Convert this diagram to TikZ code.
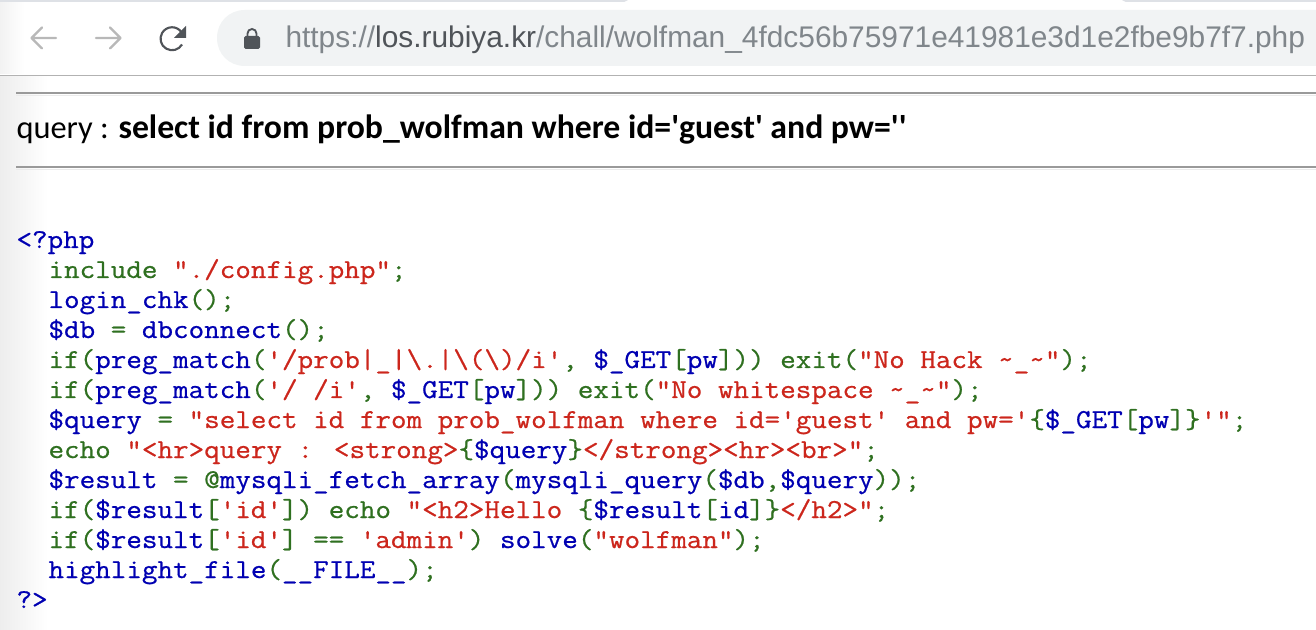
\documentclass[tikz,border=0pt]{standalone}
\usepackage{fontspec}
\newfontfamily\codefont[FakeStretch=1.106,FakeBold=0.7]{Latin Modern Mono}
\newfontfamily\urlfont{Liberation Sans}
\newfontfamily\queryfont{Carlito}
\definecolor{codegreen}{RGB}{47,112,32}
\definecolor{codered}{RGB}{204,38,28}
\definecolor{codeblue}{RGB}{0,0,178}
\definecolor{urlgray}{RGB}{128,134,139}
\definecolor{urldark}{RGB}{80,84,89}
\definecolor{barfill}{RGB}{241,243,244}
\definecolor{tabfill}{RGB}{222,225,230}
\definecolor{rulegray}{RGB}{154,154,154}
\newcommand{\kw}[1]{\textcolor{codegreen}{#1}}
\newcommand{\st}[1]{\textcolor{codered}{#1}}
\newcommand{\dl}{\$}
\newcommand{\bs}{\textbackslash}
\newcommand{\tl}{\textasciitilde}
\tikzset{every picture/.style={line width=0.75pt}}
\tikzset{
  codeline/.style={anchor=base west,inner sep=0pt,font=\codefont\fontsize{20.5}{23}\selectfont,text=codeblue},
  navicon/.style={draw=#1,line width=1.6pt,line cap=round,line join=round},
  hrule/.style={draw=rulegray,line width=1.5pt},
  hshade/.style={draw=black!8,line width=0.75pt}
}
\begin{document}
\begin{tikzpicture}[x=0.75pt,y=0.75pt,yscale=-1,xscale=1]
\useasboundingbox (0,0) rectangle (1316,630);
%Shape: Page
\fill [white] (0,0) rectangle (1316,630);
\shade [left color=black!7,right color=white] (0,0) rectangle (48,630);
\fill [white] (48,0) rectangle (1316,630);
%Shape: Tab strip
\fill [tabfill] (0,0) -- (628,0) .. controls (626,2) and (624,2) .. (620,2) -- (0,2) -- cycle ;
\fill [tabfill] (1122,0) -- (1316,0) -- (1316,2) -- (1130,2) .. controls (1126,2) and (1124,2) .. (1122,0) -- cycle ;
%Shape: Toolbar
\fill [white] (0,2) rectangle (1316,75);
\shade [left color=black!5,right color=white] (0,3) rectangle (24,74);
\draw [draw=black!30] (0,75.5) -- (1316,75.5) ;
%Shape: Address bar
\fill [barfill] (1316,10) -- (245,10) .. controls (229,10) and (217,22) .. (217,38) .. controls (217,54) and (229,66) .. (245,66) -- (1316,66) -- cycle ;
%Shape: Back arrow
\draw [navicon=black!28] (56,38) -- (32,38) (42,27.5) -- (31.5,38) -- (42,48.5) ;
%Shape: Forward arrow
\draw [navicon=black!28] (96,38) -- (120,38) (110,27.5) -- (120.5,38) -- (110,48.5) ;
%Shape: Reload
\draw [navicon=urldark,line cap=butt] (182,44.5) arc (30:325:11.5) ;
\fill [urldark] (186,26) -- (186,38) -- (174,38) -- cycle ;
%Shape: Lock
\fill [urldark,rounded corners=1.2pt] (244,36) rectangle (260,49) ;
\draw [draw=urldark,line width=1.4pt] (247.5,36) -- (247.5,33.5) arc (180:360:4.5) -- (256.5,36) ;
% Text Node
\node (urlbase) [anchor=base west,inner sep=0pt,font=\urlfont\fontsize{22.4}{26}\selectfont,text=urlgray] at (285,48) {https://\textcolor{urldark}{los.rubiya.kr}/chall/wolfman\_4fdc56b75971e41981e3d1e2fbe9b7f7.php};
%Shape: Horizontal rules
\draw [hshade] (16,95.5) -- (1316,95.5) ;
\draw [hrule] (16,93) -- (1316,93) ;
\draw [hshade] (16,169.5) -- (1316,169.5) ;
\draw [hrule] (16,167) -- (1316,167) ;
% Text Node
\node (querytext) [anchor=base west,inner sep=0pt,font=\queryfont\fontsize{24.3}{26}\selectfont] at (16,139) {query : \textbf{\fontsize{25.3}{26}\selectfont select id from prob\_wolfman where id='guest' and pw=''}};
% Text Node
\node (open) [codeline] at (16,248) {<?php};
\node (include) [codeline] at (48,278) {\kw{include }\st{"./config.php"}\kw{;}};
\node (login) [codeline] at (48,308) {login\_chk\kw{();}};
\node (connect) [codeline] at (48,338) {\dl db \kw{= }dbconnect\kw{();}};
\node (matchone) [codeline] at (48,368) {\kw{if(}preg\_match\kw{(}\st{'/prob|\_|\bs.|\bs(\bs)/i'}\kw{, }\dl\_GET\kw{[}pw\kw{])) exit(}\st{"No Hack \tl\_\tl"}\kw{);}};
\node (matchtwo) [codeline] at (48,398) {\kw{if(}preg\_match\kw{(}\st{'/ /i'}\kw{, }\dl\_GET\kw{[}pw\kw{])) exit(}\st{"No whitespace \tl\_\tl"}\kw{);}};
\node (query) [codeline] at (48,428) {\dl query \kw{= }\st{"select id from prob\_wolfman where id='guest' and pw='}\kw{\{}\dl\_GET\kw{[}pw\kw{]\}}\st{'"}\kw{;}};
\node (echo) [codeline] at (48,458) {\kw{echo }\st{"<hr>query : <strong>}\kw{\{}\dl query\kw{\}}\st{</strong><hr><br>"}\kw{;}};
\node (result) [codeline] at (48,488) {\dl result \kw{= @}mysqli\_fetch\_array\kw{(}mysqli\_query\kw{(}\dl db\kw{,}\dl query\kw{));}};
\node (hello) [codeline] at (48,518) {\kw{if(}\dl result\kw{[}\st{'id'}\kw{]) echo }\st{"<h2>Hello }\kw{\{}\dl result\kw{[}id\kw{]\}}\st{</h2>"}\kw{;}};
\node (admin) [codeline] at (48,548) {\kw{if(}\dl result\kw{[}\st{'id'}\kw{] == }\st{'admin'}\kw{) }solve\kw{(}\st{"wolfman"}\kw{);}};
\node (highlight) [codeline] at (48,578) {highlight\_file\kw{(}\_\_FILE\_\_\kw{);}};
\node (close) [codeline] at (16,608) {?>};

\end{tikzpicture}
\end{document}
